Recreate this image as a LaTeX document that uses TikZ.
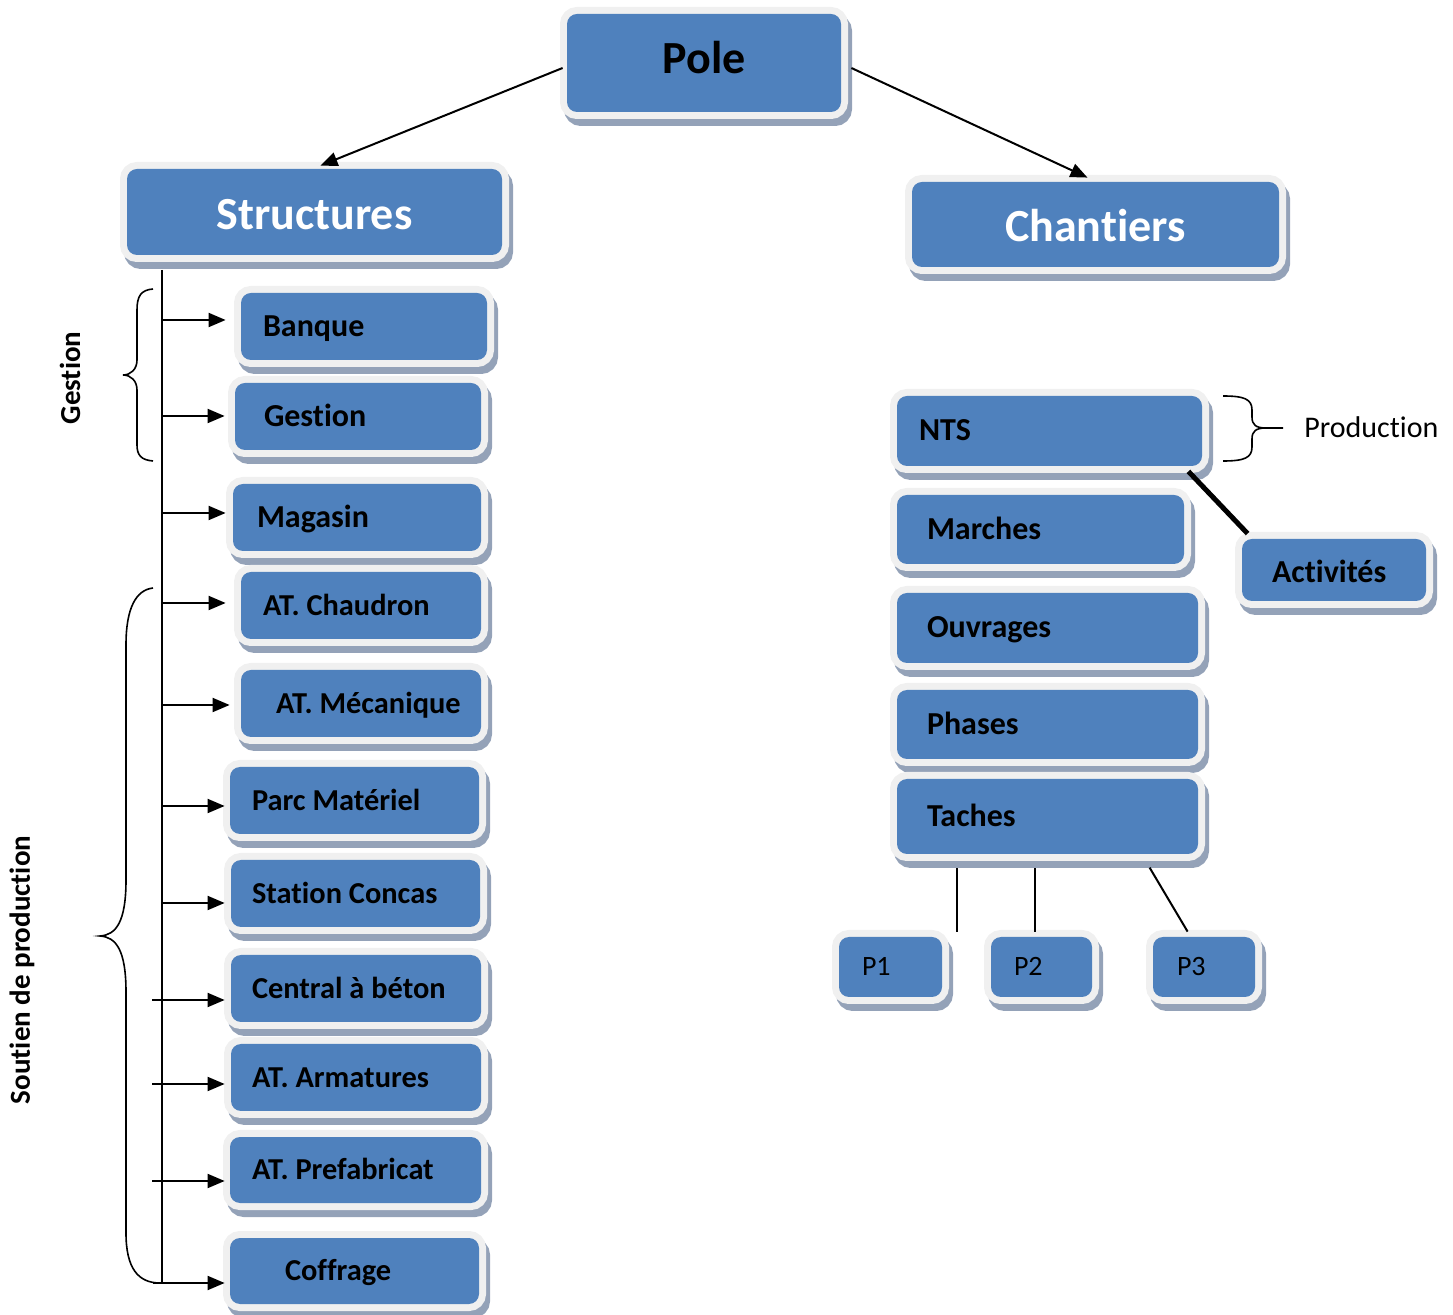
\documentclass[tikz,border=0pt]{standalone}
\usepackage{fontspec}
\setmainfont{Carlito}[Ligatures=NoCommon]
\frenchspacing
\usetikzlibrary{arrows.meta}

\definecolor{boxblue}{HTML}{4F81BD}
\definecolor{boxrim}{HTML}{F0F0F0}
\definecolor{boxshade}{HTML}{94A2B8}

\newcommand\bigfont{\bfseries\fontsize{23}{27}\selectfont}
\newcommand\midfont{\bfseries\fontsize{16}{19}\selectfont}
\newcommand\narrowfont{\bfseries\fontsize{15.2}{18}\selectfont}
\newcommand\smallfont{\fontsize{14}{17}\selectfont}

% a rounded blue box with a light rim and a soft drop shadow;
% #1 name, #2-#5 corners of the blue area, #6 left edge of the text,
% #7 extra options, #8 text
\newcommand\mkbox[8]{%
  \pgfmathsetmacro\boxW{(#4-#2)/2}%
  \pgfmathsetmacro\boxH{(#5-#3)/2}%
  \pgfmathsetmacro\boxO{(#6-#2)/2}%
  \pgfmathsetmacro\boxT{max(\boxW-2*\boxO,1)}%
  \node[panel,minimum width=\boxW pt,minimum height=\boxH pt,
        inner xsep=\boxO pt,#7]
        (#1) at ({(#2+#4)/2},{(#3+#5)/2}) {\makebox[\boxT pt][l]{#8}};}

% the same box with its text centred
\newcommand\mkcbox[7]{%
  \pgfmathsetmacro\boxW{(#4-#2)/2}%
  \pgfmathsetmacro\boxH{(#5-#3)/2}%
  \node[panel,minimum width=\boxW pt,minimum height=\boxH pt,
        inner xsep=0pt,#6]
        (#1) at ({(#2+#4)/2},{(#3+#5)/2}) {#7};}

\tikzset{
  panel/.style={
    rounded corners=5pt, fill=boxblue, inner ysep=0pt,
    font=\midfont, text height=12pt, text depth=2pt,
    preaction={fill=boxshade, draw=boxshade, line width=7pt,
               transform canvas={shift={(2pt,-3.5pt)}}},
    preaction={draw=boxrim, line width=7pt}},
  bigpanel/.style={font=\bigfont},
  narrowpanel/.style={font=\narrowfont, text height=11.6pt, text depth=2pt},
  ppanel/.style={font=\smallfont, text height=10.5pt, text depth=1.7pt},
  arr/.style={line width=1pt, -{Triangle[length=8.5pt,width=7pt]}},
  trunk/.style={line width=1pt},
  brace/.style={line width=0.8pt},
  pline/.style={line width=1pt},
}

\begin{document}
\begin{tikzpicture}[x=0.5pt,y=-0.5pt]
\useasboundingbox (0,0) rectangle (1453,1315);

% top level
\mkcbox{pole}{567}{14}{841}{112}{bigpanel,text height=15pt,text depth=4pt}{Pole}
\mkcbox{structures}{127}{169}{502}{255}{bigpanel,text=white,text height=19pt,text depth=1pt}{Structures}
\mkcbox{chantiers}{912}{182}{1279}{267}{bigpanel,text=white,text height=19pt,text depth=1.5pt}{Chantiers}

\draw[arr] ([shift={(-2pt,-2.5pt)}]pole.west) -- ([shift={(3pt,1.5pt)}]structures.north);
\draw[arr] ([shift={(5pt,-2.5pt)}]pole.east) -- ([shift={(-4pt,2pt)}]chantiers.north);

% structures column
\mkbox{banque}{241}{293}{487}{360}{263}{}{Banque}
\mkbox{gestion}{235}{383}{481}{450}{264}{}{Gestion}
\mkbox{magasin}{233}{484}{481}{551}{257}{}{Magasin}
\mkbox{chaudron}{241}{572}{481}{639}{263}{narrowpanel}{AT. Chaudron}
\mkbox{mecanique}{241}{670}{481}{737}{276}{narrowpanel}{AT. Mécanique}
\mkbox{parc}{230}{767}{479}{834}{252}{narrowpanel}{Parc Matériel}
\mkbox{station}{231}{860}{480}{927}{252}{narrowpanel}{Station Concas}
\mkbox{central}{231}{955}{481}{1022}{252}{narrowpanel}{Central à béton}
\mkbox{armatures}{231}{1044}{481}{1111}{252}{narrowpanel}{AT. Armatures}
\mkbox{prefab}{230}{1137}{481}{1203}{252}{narrowpanel}{AT. Prefabricat}
\mkbox{coffrage}{230}{1238}{479}{1304}{285}{narrowpanel}{Coffrage}

\coordinate (trunktop) at (162,270);
\coordinate (trunkbot) at (162,1283);
\draw[trunk] (trunktop) -- (trunkbot);

\foreach \n/\sx/\sy/\gap in {banque/162/320/7.5, gestion/162/416/5,
    magasin/162/513/3.5, chaudron/162/603/7.5, mecanique/162/705/5.5,
    parc/162/806/2.5, station/162/903/3, central/152/1000/3,
    armatures/152/1084/3, prefab/152/1181/2.5, coffrage/153/1283/2.5}
  {\coordinate (from-\n) at (\sx,\sy);
   \draw[arr, shorten >=\gap pt] (from-\n) -- (from-\n -| \n.west);}

% braces and side labels
\draw[brace] (153,289) .. controls (141,290) and (137,296) .. (137,310)
  -- (137,360) .. controls (137,369) and (131,375) .. (123,375)
  .. controls (131,375) and (137,381) .. (137,390)
  -- (137,445) .. controls (137,455) and (141,460) .. (153,461);
\draw[brace] (153,588) .. controls (136,590) and (126,608) .. (126,645)
  -- (126,880) .. controls (126,922) and (116,935) .. (100,936)
  .. controls (116,937) and (126,950) .. (126,992)
  -- (126,1233) .. controls (126,1268) and (138,1283) .. (160,1283);

\node[rotate=90, font=\bfseries\fontsize{14.5}{17}\selectfont] (lblgestion) at (70,378) {Gestion};
\node[rotate=90, font=\bfseries\fontsize{14.5}{17}\selectfont] (lblsoutien) at (22,970) {Soutien de production};

% chantiers column
\mkbox{nts}{897}{396}{1202}{466}{919}{}{NTS}
\mkbox{marches}{897}{495}{1184}{564}{927}{}{Marches}
\mkbox{ouvrages}{897}{593}{1198}{663}{927}{}{Ouvrages}
\mkbox{phases}{897}{690}{1198}{759}{927}{}{Phases}
\mkbox{taches}{897}{779}{1198}{854}{927}{}{Taches}
\mkbox{activites}{1242}{539}{1426}{601}{1272}{text height=14pt,text depth=1pt}{Activités}

\draw[line width=2.5pt] ([shift={(-7pt,-2.5pt)}]nts.south east) -- ([shift={(3pt,2.5pt)}]activites.north west);

\draw[brace] (1223,396) .. controls (1244,396) and (1252,399) .. (1252,410)
  -- (1252,417) .. controls (1252,425) and (1256,428) .. (1266,428) -- (1283,428);
\draw[brace] (1266,428) .. controls (1256,428) and (1252,431) .. (1252,439)
  -- (1252,447) .. controls (1252,458) and (1244,461) .. (1223,461);
\node[anchor=west, inner sep=0pt, font=\fontsize{15}{18}\selectfont] (lblprod) at (1304,427) {Production};

% parts under Taches
\mkbox{p1}{839}{937}{942}{997}{862}{ppanel}{P1}
\mkbox{p2}{991}{937}{1092}{997}{1014}{ppanel}{P2}
\mkbox{p3}{1153}{937}{1255}{997}{1177}{ppanel}{P3}

\draw[pline] ([shift={(7.5pt,2.5pt)}]p1.north east) -- ++(0,-64);
\draw[pline] ([shift={(-3.5pt,2.5pt)}]p2.north) -- ++(0,-64);
\draw[pline] ([shift={(17.5pt,2.5pt)}]p3.north west) -- ++(-38,-64);
\end{tikzpicture}
\end{document}
